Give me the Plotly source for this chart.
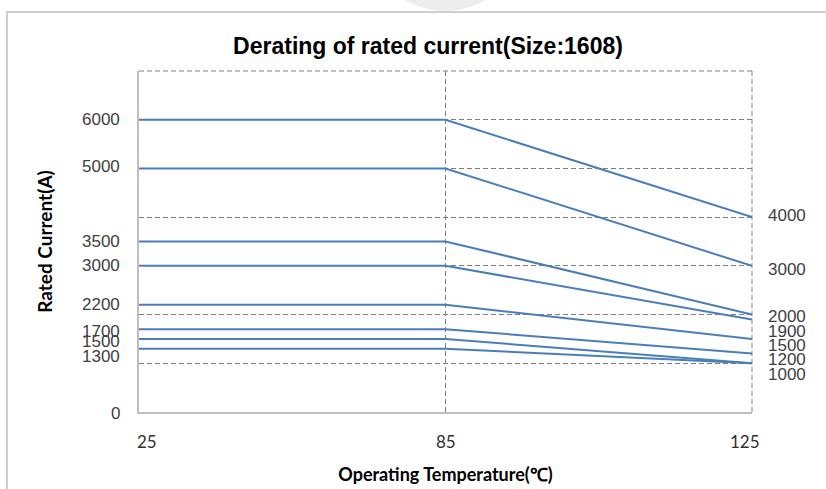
import plotly.graph_objects as go

# ---------------- data ----------------
temps = ["25", "85", "125"]
start_current = [6000, 5000, 3500, 3000, 2200, 1700, 1500, 1300]
end_current = [4000, 3000, 2000, 1900, 1500, 1200, 1000, 1000]

left_labels = [6000, 5000, 3500, 3000, 2200, 1700, 1500, 1300, 0]
right_labels = [4000, 3000, 2000, 1900, 1500, 1200, 1000]

title_text = "Derating of rated current(Size:1608)"
x_title = "Operating Temperature(℃)"
y_title = "Rated Current(A)"

# ---------------- layout helpers (pixels) ----------------
W, H = 826, 489
L, R, T, B = 139, 752, 71, 412


def px_x(p):
    return (p - L) / (R - L)


def px_y(p):
    return (B - p) / (B - T)


# crowded label offsets (pixels, downward negative)
left_shift = [0, 2, 0, 0, 0, -2, -3, -8, -1]
right_shift = [2, -4, -2, -12, -7, -6, -11]
xlabel_shift = [8, 0, -7]

LINE_COLOR = "#4A7EBB"
TEXT_COLOR = "#404040"
GRID_COLOR = "#7f7f7f"
GRID_DASH = "5px,3px"

fig = go.Figure()
for s, e in zip(start_current, end_current):
    fig.add_trace(go.Scatter(
        x=temps, y=[s, s, e], mode="lines",
        line=dict(color=LINE_COLOR, width=2),
        showlegend=False, hoverinfo="skip",
    ))

annotations = []
for v, sh in zip(left_labels, left_shift):
    annotations.append(dict(
        x=0, xref="paper", y=v, yref="y", text=str(v), showarrow=False,
        xanchor="right", yanchor="middle", xshift=-17, yshift=sh,
        font=dict(family="Liberation Sans, Arial, sans-serif", size=17, color=TEXT_COLOR),
    ))
for v, sh in zip(right_labels, right_shift):
    annotations.append(dict(
        x=1, xref="paper", y=v, yref="y", text=str(v), showarrow=False,
        xanchor="left", yanchor="middle", xshift=14, yshift=sh,
        font=dict(family="Liberation Sans, Arial, sans-serif", size=17, color=TEXT_COLOR),
    ))
for i, (t, sh) in enumerate(zip(temps, xlabel_shift)):
    # category axis: the i-th category sits at index i
    annotations.append(dict(
        x=i, xref="x", y=0, yref="paper", text=t, showarrow=False,
        xanchor="center", yanchor="middle", xshift=sh, yshift=-29,
        font=dict(family="Lato, sans-serif", size=17, color="#303030"),
    ))

shapes = [
    # faint watermark disc at top
    dict(type="circle", xref="paper", yref="paper", layer="below",
         x0=px_x(365), x1=px_x(525), y0=px_y(11), y1=px_y(-150),
         fillcolor="#ededed", line=dict(width=0)),
    # outer frame
    dict(type="rect", xref="paper", yref="paper", layer="below",
         x0=px_x(7), x1=px_x(840), y0=px_y(500), y1=px_y(12),
         line=dict(color="#cfcfcf", width=2), fillcolor="rgba(0,0,0,0)"),
    # dashed top and right borders of the plot area
    dict(type="line", xref="paper", yref="paper", layer="below",
         x0=0, x1=1, y0=1, y1=1, line=dict(color=GRID_COLOR, width=1, dash=GRID_DASH)),
    dict(type="line", xref="paper", yref="paper", layer="below",
         x0=1, x1=1, y0=0, y1=1, line=dict(color=GRID_COLOR, width=1, dash=GRID_DASH)),
]

fig.update_layout(
    width=W, height=H,
    margin=dict(l=L, r=W - R, t=T, b=H - B, autoexpand=False),
    paper_bgcolor="white", plot_bgcolor="white",
    title=dict(text=f"<b>{title_text}</b>", x=428 / W, xanchor="center",
               y=1 - 46 / H, yanchor="middle",
               font=dict(family="Liberation Sans, Arial, sans-serif",
                         size=23, color="black")),
    xaxis=dict(
        type="category", categoryorder="array", categoryarray=temps,
        range=[0, 2], showgrid=True, gridcolor=GRID_COLOR, griddash=GRID_DASH, gridwidth=1,
        showline=True, linecolor="#bfbfbf", linewidth=1.5, ticks="",
        showticklabels=False, automargin=False,
        title=dict(text=f"<b>{x_title}</b>", standoff=56,
                   font=dict(family="Lato, sans-serif", size=18, color="black")),
    ),
    yaxis=dict(
        range=[0, 7000], dtick=1000, tick0=0, showgrid=True, gridcolor=GRID_COLOR,
        griddash=GRID_DASH, gridwidth=1, zeroline=False,
        showline=True, linecolor="#bfbfbf", linewidth=1.5, showticklabels=False, ticks="",
        automargin=False,
        title=dict(text=f"<b>{y_title}</b>", standoff=80,
                   font=dict(family="Lato, sans-serif", size=19, color="black")),
    ),
    annotations=annotations,
    shapes=shapes,
)

fig.write_html("out.html", config={"displayModeBar": False},
               post_script="document.body.style.margin='0';")
